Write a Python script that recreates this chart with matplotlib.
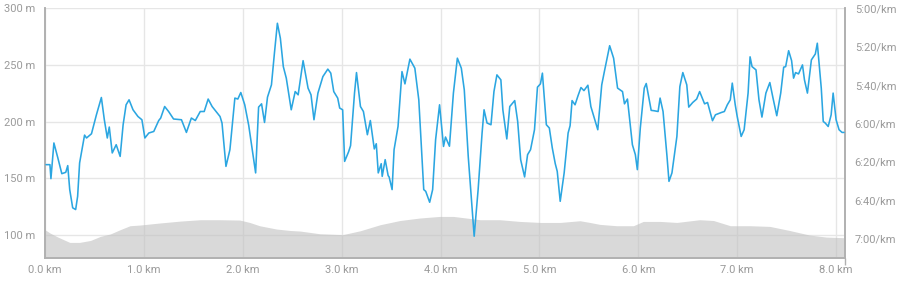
#!/usr/bin/env python3
"""
Perfil de ritmo e altitude de uma corrida (8 km).
"""
import matplotlib

matplotlib.use("Agg")
import matplotlib.pyplot as plt
from matplotlib.ticker import FuncFormatter

# Altitude (m) ao longo da distancia (km)
elev_km = [0.00, 0.05, 0.13, 0.25, 0.35, 0.46, 0.56, 0.66, 0.76, 0.86, 0.96, 1.16,
           1.37, 1.57, 1.77, 1.97, 2.07, 2.17, 2.34, 2.48, 2.58, 2.78, 3.01, 3.19,
           3.39, 3.59, 3.79, 3.99, 4.13, 4.26, 4.40, 4.60, 4.80, 5.01, 5.21, 5.41,
           5.51, 5.61, 5.78, 5.95, 6.05, 6.22, 6.39, 6.62, 6.76, 6.93, 7.13, 7.33,
           7.53, 7.73, 7.90, 8.09]
elev_m = [104.7, 101.8, 98.2, 93.5, 93.5, 95.2, 98.8, 100.9, 104.7, 108.2, 108.8, 110.6,
          112.3, 113.5, 113.5, 113.2, 111.1, 108.2, 105.3, 104.0, 103.5, 101.1, 100.3, 103.8,
          109.1, 112.8, 115.0, 116.4, 116.4, 115.0, 113.5, 113.5, 112.0, 111.1, 111.1, 112.6,
          111.1, 109.4, 108.2, 108.2, 112.0, 112.0, 111.1, 113.5, 112.8, 108.2, 108.2, 107.6,
          104.0, 100.0, 98.2, 97.6]

# Ritmo (segundos por km)
pace_km = [0.01, 0.05, 0.06, 0.09, 0.13, 0.17, 0.21, 0.23, 0.25, 0.28, 0.31, 0.33,
           0.35, 0.40, 0.42, 0.47, 0.52, 0.57, 0.60, 0.63, 0.65, 0.68, 0.72, 0.76,
           0.79, 0.82, 0.85, 0.89, 0.94, 0.98, 1.01, 1.05, 1.10, 1.15, 1.17, 1.21,
           1.25, 1.30, 1.38, 1.43, 1.48, 1.52, 1.57, 1.61, 1.65, 1.69, 1.77, 1.79,
           1.83, 1.87, 1.92, 1.95, 1.98, 2.02, 2.06, 2.10, 2.13, 2.16, 2.19, 2.22,
           2.25, 2.29, 2.32, 2.35, 2.38, 2.41, 2.44, 2.49, 2.53, 2.56, 2.61, 2.66,
           2.69, 2.72, 2.76, 2.81, 2.86, 2.89, 2.92, 2.96, 2.98, 3.01, 3.03, 3.07,
           3.09, 3.13, 3.15, 3.19, 3.22, 3.26, 3.29, 3.33, 3.35, 3.37, 3.40, 3.41,
           3.44, 3.47, 3.48, 3.51, 3.53, 3.57, 3.61, 3.64, 3.69, 3.74, 3.78, 3.83,
           3.85, 3.89, 3.92, 3.95, 3.99, 4.03, 4.05, 4.09, 4.13, 4.17, 4.21, 4.24,
           4.28, 4.34, 4.38, 4.42, 4.44, 4.47, 4.51, 4.54, 4.57, 4.61, 4.63, 4.67,
           4.70, 4.75, 4.78, 4.81, 4.85, 4.88, 4.91, 4.95, 4.98, 5.01, 5.03, 5.07,
           5.10, 5.13, 5.16, 5.18, 5.21, 5.25, 5.29, 5.31, 5.33, 5.36, 5.39, 5.42,
           5.45, 5.49, 5.52, 5.55, 5.59, 5.63, 5.66, 5.71, 5.75, 5.79, 5.84, 5.86,
           5.89, 5.94, 5.97, 5.99, 6.02, 6.06, 6.08, 6.13, 6.16, 6.20, 6.22, 6.25,
           6.29, 6.31, 6.34, 6.39, 6.42, 6.45, 6.49, 6.51, 6.55, 6.59, 6.62, 6.67,
           6.70, 6.75, 6.78, 6.84, 6.87, 6.90, 6.93, 6.95, 6.98, 7.00, 7.04, 7.07,
           7.11, 7.13, 7.15, 7.19, 7.22, 7.25, 7.29, 7.33, 7.36, 7.40, 7.44, 7.47,
           7.49, 7.52, 7.55, 7.57, 7.59, 7.62, 7.66, 7.68, 7.71, 7.75, 7.79, 7.81,
           7.85, 7.87, 7.89, 7.92, 7.95, 7.97, 8.00, 8.03, 8.06, 8.08]
pace_s = [381.5, 381.5, 388.8, 370.2, 378.0, 386.2, 385.5, 382.0, 394.5, 404.0, 404.9, 398.0,
          380.6, 366.1, 367.6, 365.4, 355.5, 346.5, 358.1, 367.6, 361.9, 375.4, 371.1, 377.2,
          360.7, 350.3, 347.7, 352.9, 356.4, 358.1, 367.6, 365.0, 364.2, 358.5, 357.2, 351.2,
          353.8, 357.7, 358.1, 364.7, 357.2, 358.5, 353.8, 353.8, 347.3, 351.2, 356.4, 359.8,
          382.4, 373.7, 346.8, 347.3, 343.9, 350.3, 361.0, 375.4, 385.8, 351.5, 349.8, 359.5,
          346.3, 339.9, 323.4, 307.8, 315.6, 330.4, 336.4, 352.9, 343.4, 345.1, 327.3, 341.6,
          345.1, 358.1, 344.2, 335.6, 331.7, 333.8, 343.4, 346.8, 352.0, 352.9, 379.8, 374.8,
          371.6, 344.2, 333.5, 351.2, 353.8, 365.9, 358.5, 373.3, 370.6, 385.8, 381.0, 387.6,
          378.9, 387.2, 387.9, 394.5, 373.7, 361.6, 333.0, 339.4, 326.5, 331.2, 347.7, 394.5,
          395.4, 401.1, 394.5, 368.5, 350.3, 372.0, 367.1, 371.9, 344.2, 326.0, 331.2, 342.5,
          377.2, 418.8, 394.5, 365.0, 352.9, 359.8, 360.7, 343.4, 334.7, 337.3, 352.9, 368.1,
          351.2, 348.1, 359.0, 378.9, 387.9, 376.3, 373.7, 363.3, 341.1, 339.4, 333.8, 360.7,
          362.4, 372.8, 381.0, 385.0, 400.6, 385.8, 365.0, 361.2, 348.1, 350.3, 345.6, 341.3,
          342.9, 340.1, 351.2, 356.4, 363.3, 339.9, 332.1, 319.5, 326.0, 341.6, 343.4, 349.8,
          347.3, 371.1, 376.3, 384.1, 362.4, 341.6, 339.2, 353.2, 353.4, 353.8, 346.8, 353.8,
          377.2, 390.2, 385.8, 366.8, 340.8, 333.5, 339.9, 351.5, 349.1, 347.3, 343.4, 349.8,
          349.1, 358.6, 355.5, 354.3, 353.8, 350.3, 347.7, 339.0, 350.3, 356.4, 366.8, 363.3,
          344.2, 325.3, 330.4, 332.1, 347.7, 356.7, 344.2, 338.7, 346.3, 356.0, 344.2, 330.7,
          330.4, 322.1, 327.3, 336.4, 333.5, 334.2, 329.5, 337.3, 344.2, 326.9, 323.8, 318.2,
          341.6, 359.0, 359.8, 361.6, 355.5, 344.2, 358.1, 363.3, 364.7, 364.7]

x_ticks = [0, 1, 2, 3, 4, 5, 6, 7, 8]
elev_ticks = [100, 150, 200, 250, 300]
pace_ticks = [300, 320, 340, 360, 380, 400, 420]

TEXT = "#9a9a9a"
AXIS = "#b0b0b0"
GRID = "#e6e6e6"
BLUE = "#2ba6e1"

plt.rcParams["font.family"] = ["Roboto", "DejaVu Sans"]

fig = plt.figure(figsize=(9.04, 2.86), dpi=100)
ax = fig.add_axes([45 / 904, 28.3 / 286, 800 / 904, 249.4 / 286])

ax.fill_between(elev_km, elev_m, 80, color="#c0c0c0", alpha=0.6, lw=0, zorder=3)
ax.set_xlim(0, 8.09)
ax.set_ylim(80, 300)
ax.set_xticks(x_ticks)
ax.set_yticks(elev_ticks)
ax.xaxis.set_major_formatter(FuncFormatter(lambda v, _: f"{v:.1f} km"))
ax.yaxis.set_major_formatter(FuncFormatter(lambda v, _: f"{v:.0f} m"))
ax.grid(True, color=GRID, lw=1, zorder=1)
ax.set_axisbelow(True)
ax.set_xticks([0, 8.09], minor=True)
ax.set_yticks([300], minor=True)
ax.tick_params(which="major", length=0, labelsize=8, labelcolor=TEXT, pad=7)
ax.tick_params(which="minor", length=5, color=AXIS, width=1)
ax.tick_params(axis="x", pad=5)

ax2 = ax.twinx()
ax2.plot(pace_km, pace_s, color=BLUE, lw=1.15, zorder=4,
         solid_joinstyle="round", solid_capstyle="round")
ax2.set_ylim(430, 300)
ax2.set_yticks(pace_ticks)
ax2.yaxis.set_major_formatter(FuncFormatter(lambda v, _: f"{int(v) // 60}:{int(v) % 60:02d}/km"))
ax2.set_yticks([300], minor=True)
ax2.tick_params(which="major", length=0, labelsize=8, labelcolor=TEXT, pad=7)
ax2.tick_params(which="minor", length=5, color=AXIS, width=1)

for a in (ax, ax2):
    a.spines["top"].set_visible(False)
    for s in ("left", "right", "bottom"):
        a.spines[s].set_color(AXIS)
        a.spines[s].set_linewidth(1.2)

fig.savefig("out.png", dpi=100)
